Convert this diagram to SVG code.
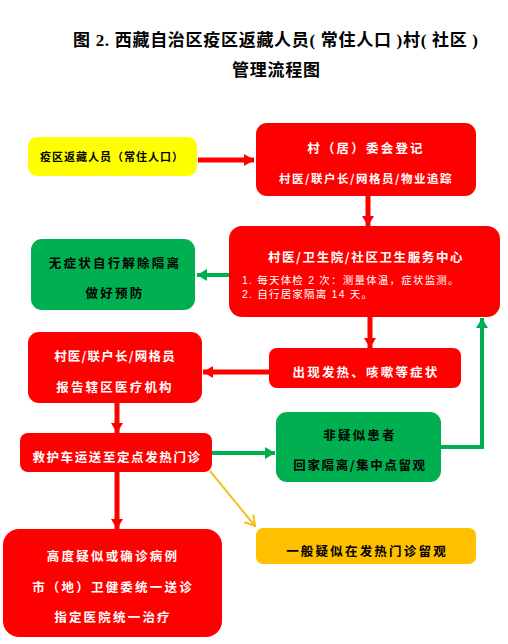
<svg xmlns="http://www.w3.org/2000/svg" width="508" height="644" viewBox="0 0 508 644">
<style>
.t{font-family:"Liberation Serif","Noto Sans CJK SC",serif;font-weight:bold;fill:#000}
.n{font-family:"Noto Sans CJK SC","Noto Sans CJK SC",sans-serif;font-weight:bold;font-size:12.5px;letter-spacing:2.2px;text-anchor:middle}
.w{fill:#fff}
.k{fill:#000}
.s{font-family:"Liberation Sans","Noto Sans CJK SC",sans-serif;font-size:10.5px;fill:#fff;letter-spacing:1.2px}
.red{fill:#ff0000}
.grn{fill:#00b050}
.yel{fill:#ffff00}
.org{fill:#ffc000}
.ar{fill:none;stroke:#ff0000;stroke-width:5}
.ag{fill:none;stroke:#00b050;stroke-width:4}
.ay{fill:none;stroke:#f5c020;stroke-width:2}
</style>
<defs>
<marker id="mr" markerUnits="userSpaceOnUse" markerWidth="14" markerHeight="14" refX="10" refY="7" orient="auto"><path d="M0,1 L10,7 L0,13 Z" fill="#ff0000"/></marker>
<marker id="mg" markerUnits="userSpaceOnUse" markerWidth="14" markerHeight="14" refX="10" refY="7" orient="auto"><path d="M0,1 L10,7 L0,13 Z" fill="#00b050"/></marker>
<marker id="my" markerUnits="userSpaceOnUse" markerWidth="14" markerHeight="14" refX="10" refY="7" orient="auto"><path d="M0,1 L10,7 L0,13" fill="none" stroke="#f5c020" stroke-width="2"/></marker>
</defs>
<rect width="508" height="644" fill="#fff"/>
<text class="t" x="73" y="46" font-size="17" textLength="405" lengthAdjust="spacing">图 2. 西藏自治区疫区返藏人员( 常住人口 )村( 社区 )</text>
<text class="t" x="232" y="76" font-size="17" textLength="88" lengthAdjust="spacing">管理流程图</text>

<g id="connectors">
<path class="ar" d="M198,160 H254" marker-end="url(#mr)"/>
<path class="ar" d="M368,196 V226" marker-end="url(#mr)"/>
<path class="ag" d="M229,275 H197" marker-end="url(#mg)"/>
<path class="ar" d="M370,317 V348" marker-end="url(#mr)"/>
<path class="ar" d="M269,372 H203" marker-end="url(#mr)"/>
<path class="ar" d="M117,403 V433" marker-end="url(#mr)"/>
<path class="ag" d="M212,453 H275" marker-end="url(#mg)"/>
<path class="ag" d="M441,447 H482 V318" marker-end="url(#mg)"/>
<path class="ay" d="M210,471 L255,526" marker-end="url(#my)"/>
<path class="ar" d="M117,472 V529" marker-end="url(#mr)"/>
</g>

<g id="n1">
<rect class="yel" x="28" y="137" width="169" height="39" rx="9"/>
<text class="n k" x="112" y="161" style="font-size:11px;letter-spacing:1px">疫区返藏人员（常住人口）</text>
</g>
<g id="n2">
<rect class="red" x="256" y="123" width="220" height="73" rx="11"/>
<text class="n w" x="366" y="153" style="letter-spacing:2.2px">村（居）委会登记</text>
<text class="n w" x="366" y="183" style="font-size:11.5px;letter-spacing:1.5px">村医/联户长/网格员/物业追踪</text>
</g>
<g id="n3">
<rect class="red" x="229" y="226" width="271" height="91" rx="13"/>
<text class="n w" x="366" y="262" style="letter-spacing:1.6px">村医/卫生院/社区卫生服务中心</text>
<text class="s" x="242" y="284">1. 每天体检 2 次：测量体温，症状监测。</text>
<text class="s" x="242" y="298">2. 自行居家隔离 14 天。</text>
</g>
<g id="n4">
<rect class="grn" x="31" y="239" width="164" height="71" rx="11"/>
<text class="n k" x="115" y="268">无症状自行解除隔离</text>
<text class="n k" x="115" y="298">做好预防</text>
</g>
<g id="n5">
<rect class="red" x="269" y="348" width="192" height="40" rx="8"/>
<text class="n w" x="366" y="377">出现发热、咳嗽等症状</text>
</g>
<g id="n6">
<rect class="red" x="28" y="332" width="174" height="71" rx="11"/>
<text class="n w" x="115" y="361" style="letter-spacing:1.2px">村医/联户长/网格员</text>
<text class="n w" x="115" y="392">报告辖区医疗机构</text>
</g>
<g id="n7">
<rect class="red" x="20" y="433" width="192" height="39" rx="8"/>
<text class="n w" x="117" y="462" style="letter-spacing:1.6px">救护车运送至定点发热门诊</text>
</g>
<g id="n8">
<rect class="grn" x="276" y="412" width="165" height="70" rx="11"/>
<text class="n k" x="360" y="440">非疑似患者</text>
<text class="n k" x="360" y="470" style="letter-spacing:1.6px">回家隔离/集中点留观</text>
</g>
<g id="n9">
<rect class="org" x="256" y="528" width="220" height="36" rx="7"/>
<text class="n k" x="367" y="556">一般疑似在发热门诊留观</text>
</g>
<g id="n10">
<rect class="red" x="3" y="529" width="219" height="108" rx="16"/>
<text class="n w" x="113" y="561">高度疑似或确诊病例</text>
<text class="n w" x="113" y="592">市（地）卫健委统一送诊</text>
<text class="n w" x="113" y="622">指定医院统一治疗</text>
</g>
</svg>
